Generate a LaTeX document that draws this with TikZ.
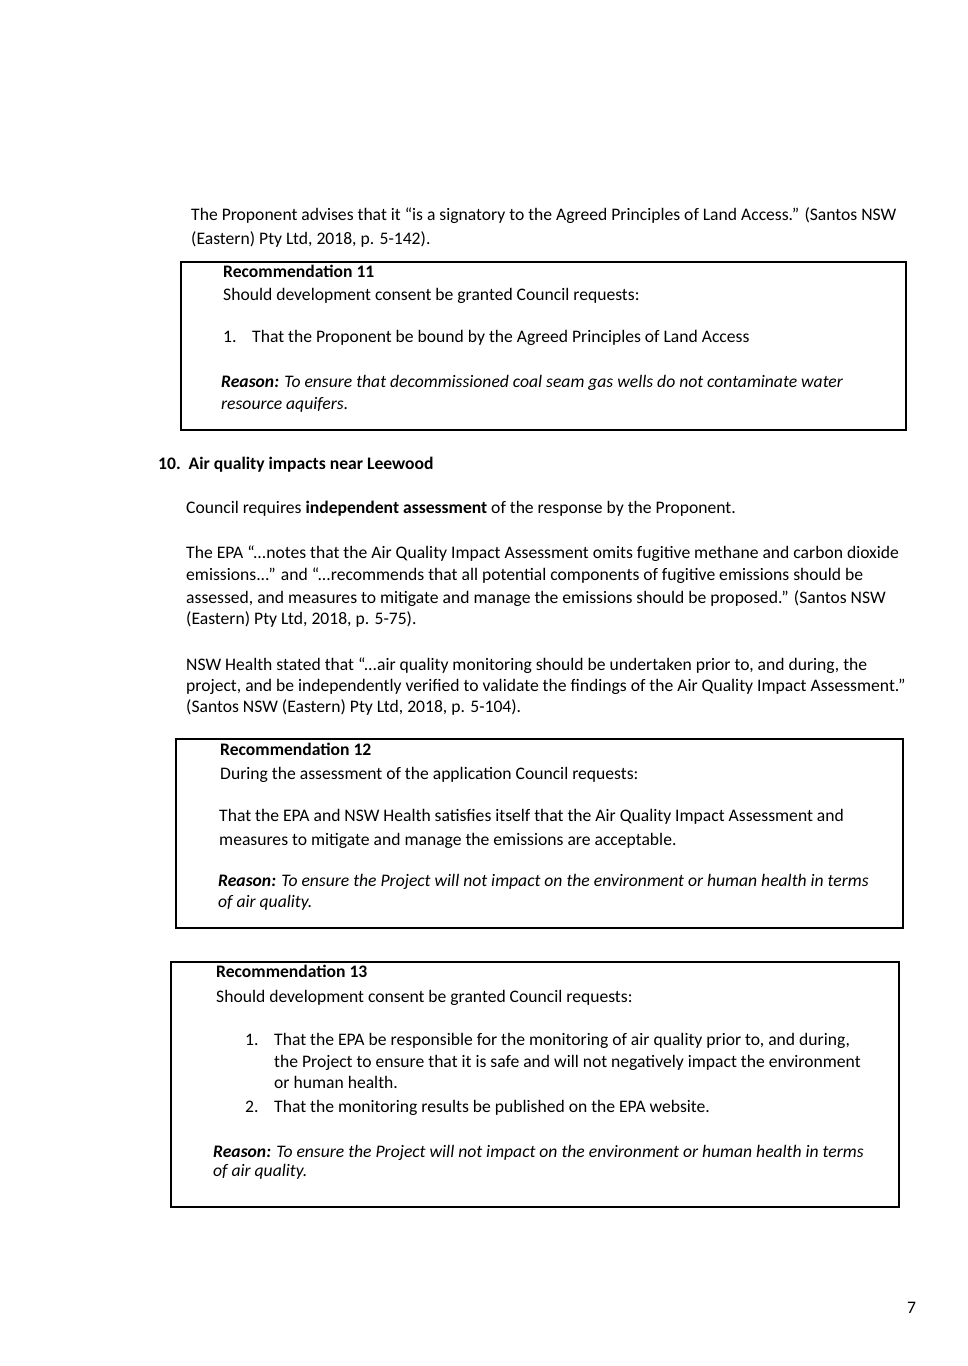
\documentclass[tikz,border=0pt]{standalone}
\usepackage{fontspec}
\setmainfont{Carlito}
\begin{document}
\begin{tikzpicture}[x=1pt,y=-1pt,
  ln/.style={anchor=base west,inner sep=0,font=\fontsize{17.6}{20}\selectfont},
  bx/.style={draw,line width=1.1pt}]
\useasboundingbox (0,0) rectangle (967,1366);
\fill[white] (0,0) rectangle (967,1366);
\draw[bx] (181,262) rectangle (906,430);
\draw[bx] (176,739) rectangle (903,928);
\draw[bx] (171,962) rectangle (899,1207);
\node[ln] (a1) at (191,220) {The Proponent advises that it “is a signatory to the Agreed Principles of Land Access.” (Santos NSW};
\node[ln] (a2) at (191,244) {(Eastern) Pty Ltd, 2018, p. 5-142).};
\node[ln] (r11) at (223,277) {\bfseries Recommendation 11};
\node[ln] (r11a) at (223,300) {Should development consent be granted Council requests:};
\node[ln] (r11n) at (223,342) {1.};
\node[ln] (r11b) at (252,342) {That the Proponent be bound by the Agreed Principles of Land Access};
\node[ln] (r11c) at (221,387) {\bfseries\itshape Reason: \mdseries To ensure that decommissioned coal seam gas wells do not contaminate water};
\node[ln] (r11d) at (221,409) {\itshape resource aquifers.};
\node[ln] (h10) at (158,469) {\bfseries 10.\ \ Air quality impacts near Leewood};
\node[ln] (p1) at (186,513) {Council requires \textbf{independent assessment} of the response by the Proponent.};
\node[ln] (p2) at (186,558) {The EPA “...notes that the Air Quality Impact Assessment omits fugitive methane and carbon dioxide};
\node[ln] (p3) at (186,580) {emissions...” and “...recommends that all potential components of fugitive emissions should be};
\node[ln] (p4) at (186,603) {assessed, and measures to mitigate and manage the emissions should be proposed.” (Santos NSW};
\node[ln] (p5) at (186,624) {(Eastern) Pty Ltd, 2018, p. 5-75).};
\node[ln] (q1) at (186,670) {NSW Health stated that “...air quality monitoring should be undertaken prior to, and during, the};
\node[ln] (q2) at (186,691) {project, and be independently verified to validate the findings of the Air Quality Impact Assessment.”};
\node[ln] (q3) at (186,712) {(Santos NSW (Eastern) Pty Ltd, 2018, p. 5-104).};
\node[ln] (r12) at (220,755) {\bfseries Recommendation 12};
\node[ln] (r12a) at (220,779) {During the assessment of the application Council requests:};
\node[ln] (r12b) at (219,821) {That the EPA and NSW Health satisfies itself that the Air Quality Impact Assessment and};
\node[ln] (r12c) at (219,845) {measures to mitigate and manage the emissions are acceptable.};
\node[ln] (r12d) at (218,886) {\bfseries\itshape Reason: \mdseries To ensure the Project will not impact on the environment or human health in terms};
\node[ln] (r12e) at (218,907) {\itshape of air quality.};
\node[ln] (r13) at (216,977) {\bfseries Recommendation 13};
\node[ln] (r13a) at (216,1002) {Should development consent be granted Council requests:};
\node[ln] (n1) at (245,1045) {1.};
\node[ln] (r13b) at (274,1045) {That the EPA be responsible for the monitoring of air quality prior to, and during,};
\node[ln] (r13c) at (274,1067) {the Project to ensure that it is safe and will not negatively impact the environment};
\node[ln] (r13d) at (274,1088) {or human health.};
\node[ln] (n2) at (245,1112) {2.};
\node[ln] (r13e) at (274,1112) {That the monitoring results be published on the EPA website.};
\node[ln] (r13f) at (213,1157) {\bfseries\itshape Reason: \mdseries To ensure the Project will not impact on the environment or human health in terms};
\node[ln] (r13g) at (213,1176) {\itshape of air quality.};
\node[ln] (pg) at (907,1313) {7};
\end{tikzpicture}
\end{document}
